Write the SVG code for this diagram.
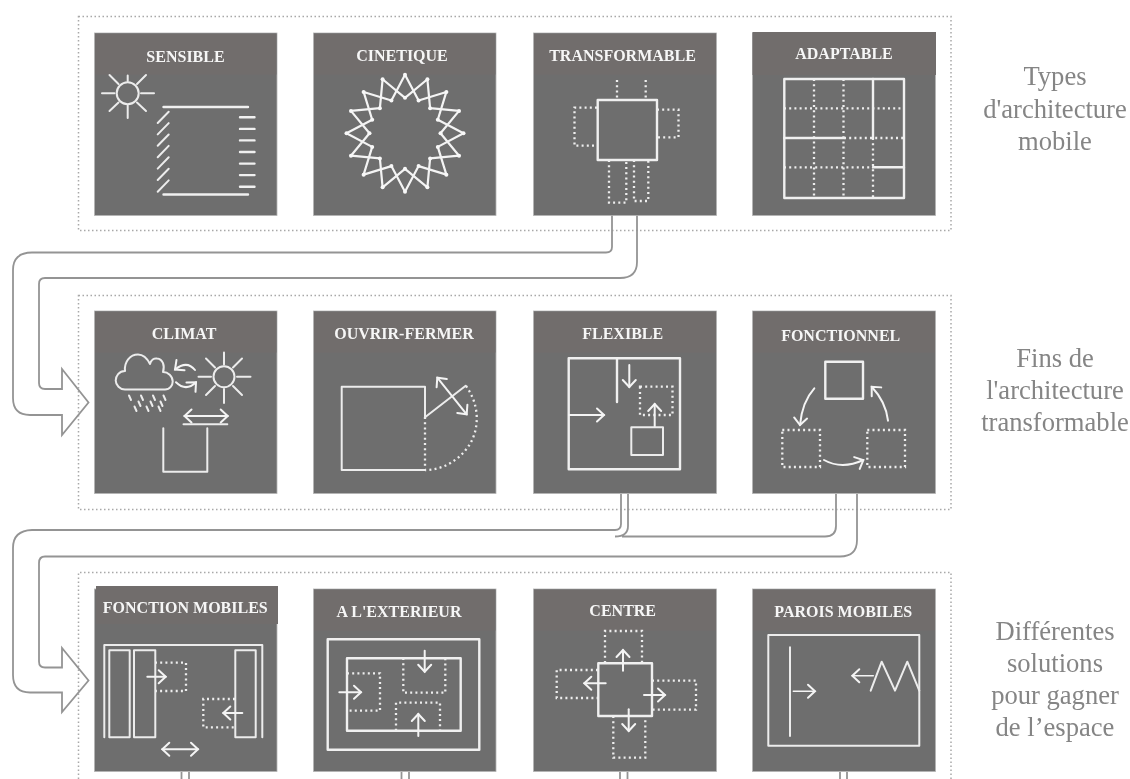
<svg xmlns="http://www.w3.org/2000/svg" width="1130" height="779" viewBox="0 0 1130 779">
<style>
.frame{fill:none;stroke:#a8a8a8;stroke-width:1.5;stroke-dasharray:1.5 2.5}
.body{fill:#6e6e6e;stroke:#b5b5b5;stroke-width:.8}
.head{fill:#716d6c}
.t{font:bold 16px "Liberation Serif",serif;fill:#f6f6f6;text-anchor:middle}
.side{font:26.6px "Liberation Serif",serif;fill:#858585;text-anchor:middle}
.s{fill:none;stroke:#f0f0f0;stroke-width:2.4;stroke-linecap:round;stroke-linejoin:round}
.n{fill:none;stroke:#ececec;stroke-width:2;stroke-linecap:round;stroke-linejoin:round}
.d{fill:none;stroke:#eee;stroke-width:2.3;stroke-dasharray:2 3.2}
.a{fill:none;stroke:#f4f4f4;stroke-width:2;stroke-linecap:round;marker-end:url(#v)}
.b{fill:none;stroke:#f4f4f4;stroke-width:2;stroke-linecap:round;marker-end:url(#v);marker-start:url(#vs)}
.c{fill:none;stroke:#949494;stroke-width:1.8}
.star{fill:none;stroke:#f4f4f4;stroke-width:2.2;stroke-linejoin:round;marker-start:url(#dot);marker-mid:url(#dot)}
</style>
<defs>
<filter id="soft" filterUnits="userSpaceOnUse" x="0" y="0" width="1130" height="779"><feGaussianBlur stdDeviation="0.4"/></filter>
<marker id="v" markerUnits="userSpaceOnUse" markerWidth="18" markerHeight="18" refX="11" refY="9" orient="auto"><path d="M4,2.5L11,9L4,15.500" fill="none" stroke="#f4f4f4" stroke-width="2" stroke-linecap="round"/></marker>
<marker id="vs" markerUnits="userSpaceOnUse" markerWidth="18" markerHeight="18" refX="7" refY="9" orient="auto"><path d="M14,2.500L7,9L14,15.500" fill="none" stroke="#f4f4f4" stroke-width="2" stroke-linecap="round"/></marker>
<marker id="dot" markerUnits="userSpaceOnUse" markerWidth="6" markerHeight="6" refX="3" refY="3"><circle cx="3" cy="3" r="2" fill="#f8f8f8"/></marker>
</defs>
<rect width="1130" height="779" fill="#fff"/>
<g filter="url(#soft)">

<g id="frames">
<rect class="frame" x="78.500" y="16.500" width="872.500" height="214"/>
<rect class="frame" x="78.500" y="295.500" width="872.500" height="214"/>
<path class="frame" d="M78.500,779V572.500H951V779"/>
</g>

<g id="connectors">
<path class="c" d="M612,215V247Q612,252.500 606,252.500H32Q13,252.500 13,270V398Q13,415 30,415H62V435L88.500,402.500L62,369V389H45Q39,389 39,383V284Q39,278 45,278H620Q637,278 637,262V215"/>
<path class="c" d="M621,494V524Q621,530 615,530H32Q13,530.500 13,548V675Q13,692.500 30,692.500H62V712L88.500,680.500L62,648V667.500H45Q39,667.500 39,661.500V563Q39,556.500 45,556.500H840Q857,556.500 857,540V494"/>
<path class="c" d="M628,494V526Q628,536.500 615,536.500M622,536.500H825Q836,536.500 836,526V494"/>
<path class="c" d="M181.500,772V779M189,772V779M401.500,772V779M409,772V779M620,772V779M627.500,772V779M840,772V779M847,772V779"/>
</g>

<g id="sensible">
<rect class="body" x="94.500" y="33" width="182.500" height="182.500"/><rect class="head" x="95" y="33.500" width="181.500" height="41"/>
<text class="t" x="185.500" y="62">SENSIBLE</text>
<g class="n"><circle cx="127.700" cy="93.300" r="11"/><path d="M127.700,75.500V81M127.700,105.500V118M102,93.300H114.500M141,93.300H154M109.500,75L118.500,84M146,75L137,84M109.500,111L118.500,102.500M146,111L137,102.500"/></g>
<path class="s" d="M163.500,107H248M163.500,194.500H248"/>
<path class="n" d="M157.700,123L168.700,111.700M157.700,134.400L168.700,123.100M157.700,145.800L168.700,134.500M157.700,157.200L168.700,145.900M157.700,168.600L168.700,157.300M157.700,180L168.700,168.700M157.700,191.700L168.700,180.400"/>
<path class="s" d="M240,117.300H254.500M240,128.900H254.500M240,140.400H254.500M240,152H254.500M240,163.600H254.500M240,175.100H254.500M240,186.700H254.500"/>
</g>

<g id="cinetique">
<rect class="body" x="313.500" y="33" width="182.500" height="182.500"/><rect class="head" x="314" y="33.500" width="181.500" height="41"/>
<text class="t" x="402" y="61">CINETIQUE</text>
<g transform="translate(405,133.300)">
<path class="star" d="M0,-58.500L13.590,-32.800L41.370,-41.370L32.800,-13.590L58.500,0L32.800,13.590L41.370,41.370L13.590,32.800L0,58.500L-13.590,32.800L-41.370,41.370L-32.800,13.590L-58.500,0L-32.800,-13.590L-41.370,-41.370L-13.590,-32.800Z"/>
<path class="star" d="M0,-35.500L22.390,-54.050L25.100,-25.100L54.050,-22.390L35.500,0L54.050,22.390L25.100,25.100L22.390,54.050L0,35.500L-22.390,54.050L-25.100,25.100L-54.050,22.390L-35.500,0L-54.050,-22.390L-25.100,-25.100L-22.390,-54.050Z"/>
</g>
</g>

<g id="transformable">
<rect class="body" x="533.500" y="33" width="183" height="182.500"/><rect class="head" x="534" y="33.500" width="182" height="41"/>
<text class="t" x="622.500" y="61">TRANSFORMABLE</text>
<rect class="s" x="597.700" y="100" width="59.300" height="60"/>
<path class="d" d="M617,80V100M645.700,80V100M597,107.700H574.500V145.700H597M657,109.700H678.500V137.300H657M609,160V202.700H626.300V160M634,160V201H648.300V160"/>
</g>

<g id="adaptable">
<rect class="body" x="752.500" y="33" width="183" height="182.500"/><rect class="head" x="752.500" y="32" width="183.500" height="43"/>
<text class="t" x="844" y="59">ADAPTABLE</text>
<path class="d" d="M814,79V198M843.500,79V198M873,138V198M784,108.300H904M844,138H904M784,167.300H873"/>
<rect class="s" x="784.300" y="79" width="119.700" height="119"/>
<path class="s" d="M873,79V138M784.300,138H844M873,167.300H904"/>
</g>

<g id="climat">
<rect class="body" x="94.500" y="311" width="182.500" height="182.500"/><rect class="head" x="95" y="311.500" width="181.500" height="41"/>
<text class="t" x="184" y="338.700">CLIMAT</text>
<path class="n" d="M125,389.500H165C170,389.500 172.700,385 172.700,381.500C172.700,376 168,372 163,372C165,366 163,359 157,358.500C154,358 151,360 150,364C147,358 144,354.500 138,354.500C130,354.500 124,362 125,371C119,371 115.700,376 115.700,380.500C115.700,385 120,389.500 125,389.500Z"/>
<path class="n" d="M129,395.500L131,400M141,395.500L143,400M153,395.500L155,400M163.500,395.500L165.500,400M138.500,401.500L140.500,406M150.500,401.500L152.500,406M160.500,401.500L162.500,406M134.500,406.500L136.500,411M146.500,406.500L148.500,411M158.500,406.500L160.500,411"/>
<g class="n"><circle cx="224" cy="376.700" r="10.500"/><path d="M224,352.500V364.500M224,389V403M198.500,376.700H211M237,376.700H250.500M206,358.500L215,367.500M242,358.500L233,367.500M206,395L215,386M242,395L233,386"/></g>
<path class="a" d="M195,370Q187,360 175,369.500"/>
<path class="a" d="M176,382.300Q186,392 196,382.300"/>
<path class="b" d="M184.500,416H227.700"/>
<path class="n" d="M183.500,424.300H227.300M163.300,428.300V471.700H207.300V428.300"/>
</g>

<g id="ouvrir">
<rect class="body" x="313.500" y="311" width="182.500" height="182.500"/><rect class="head" x="314" y="311.500" width="181.500" height="41"/>
<text class="t" x="404" y="338.700">OUVRIR-FERMER</text>
<path class="n" d="M425,417.300V386.700H341.700V470H425M425,417.300L465.700,385.700"/>
<path class="d" d="M425,417V470M466,386C480,405 480,430 468,447C458,461 442,470 425,470"/>
<path class="b" d="M437.300,377.700L466.700,414.300"/>
</g>

<g id="flexible">
<rect class="body" x="533.500" y="311" width="183" height="182.500"/><rect class="head" x="534" y="311.500" width="182" height="41"/>
<text class="t" x="622.700" y="338.700">FLEXIBLE</text>
<rect class="s" x="568.700" y="358.300" width="111.300" height="111"/>
<path class="s" d="M617,358.300V402"/>
<path class="a" d="M629.300,365V387"/>
<rect class="d" x="640" y="386.700" width="32.500" height="28.300"/>
<path class="a" d="M654.700,426.700V404"/>
<rect class="n" x="631.300" y="427.300" width="31.700" height="27.700"/>
<path class="a" d="M569,415H604"/>
</g>

<g id="fonctionnel">
<rect class="body" x="752.500" y="311" width="183" height="182.500"/><rect class="head" x="753" y="311.500" width="182" height="41"/>
<text class="t" x="840.700" y="340.700">FONCTIONNEL</text>
<rect class="s" x="825.300" y="361.700" width="37.700" height="37"/>
<rect class="d" x="782.300" y="430" width="37.700" height="37"/>
<rect class="d" x="867.300" y="430" width="37.700" height="37"/>
<path class="a" d="M814.300,388.300Q802,402 800,425"/>
<path class="a" d="M824,460Q842,470 863.300,460"/>
<path class="a" d="M888,420.700Q886,402 871.700,386.700"/>
</g>

<g id="fonction-mobiles">
<rect class="body" x="94.500" y="589" width="182.500" height="182.500"/><rect class="head" x="96" y="586" width="182" height="38"/>
<text class="t" x="185.300" y="613.300">FONCTION MOBILES</text>
<path class="n" d="M104.300,737.300V645H262.300V737.300"/>
<rect class="n" x="109.300" y="650.300" width="20.400" height="87"/>
<rect class="n" x="134" y="650.300" width="21.300" height="87"/>
<rect class="n" x="235.300" y="650.300" width="20.400" height="87"/>
<path class="d" d="M155,662.700H186V691H155M235,699H203.300V727.300H235"/>
<path class="a" d="M147.300,676.700H165.700"/>
<path class="a" d="M242.300,713H223.300"/>
<path class="b" d="M162.300,749.300H198"/>
</g>

<g id="exterieur">
<rect class="body" x="313.500" y="589" width="182.500" height="182.500"/><rect class="head" x="314" y="589.500" width="181.500" height="41"/>
<text class="t" x="399" y="617.300">A L'EXTERIEUR</text>
<rect class="s" x="327.700" y="639.300" width="151.600" height="110.400"/>
<rect class="s" x="347" y="658.300" width="113.700" height="72.400"/>
<path class="d" d="M403.300,658V692.700H445.300V658M347,673.300H380V710.700H347M396,730.700V702.700H440V730.700"/>
<path class="a" d="M424.700,650.700V671.700"/>
<path class="a" d="M339.300,692.300H361"/>
<path class="a" d="M418.300,736V714"/>
</g>

<g id="centre">
<rect class="body" x="533.500" y="589" width="183" height="182.500"/><rect class="head" x="534" y="589.500" width="182" height="41"/>
<text class="t" x="622.700" y="616">CENTRE</text>
<path class="d" d="M605,663V631H642V663M598,670H556.700V698H598M652,680.700H696V709.700H652M613.300,716V757.700H645.300V716"/>
<rect class="s" x="598.300" y="663.300" width="53.700" height="52.700"/>
<path class="a" d="M623,670.700V650"/>
<path class="a" d="M605.700,683.300H584.300"/>
<path class="a" d="M644,695H665"/>
<path class="a" d="M628.700,709.300V731"/>
</g>

<g id="parois">
<rect class="body" x="752.500" y="589" width="183" height="182.500"/><rect class="head" x="753" y="589.500" width="182" height="41"/>
<text class="t" x="843.300" y="616.700">PAROIS MOBILES</text>
<rect class="n" x="768.300" y="635" width="151" height="110.700"/>
<path class="n" d="M790,647.300V736M870.700,690.700L881.700,661.700L895,690.700L907.300,661.700L919.300,690.700"/>
<path class="a" style="stroke-width:1.500" d="M793.300,691.300H815"/>
<path class="a" style="stroke-width:1.500" d="M873.300,675.700H852.300"/>
</g>

<g id="labels">
<text class="side" x="1055" y="85">Types</text>
<text class="side" x="1055" y="118">d'architecture</text>
<text class="side" x="1055" y="150">mobile</text>
<text class="side" x="1055" y="367">Fins de</text>
<text class="side" x="1055" y="399">l'architecture</text>
<text class="side" x="1055" y="431">transformable</text>
<text class="side" x="1055" y="640">Différentes</text>
<text class="side" x="1055" y="672">solutions</text>
<text class="side" x="1055" y="704">pour gagner</text>
<text class="side" x="1055" y="736">de l’espace</text>
</g>
</g>
</svg>
